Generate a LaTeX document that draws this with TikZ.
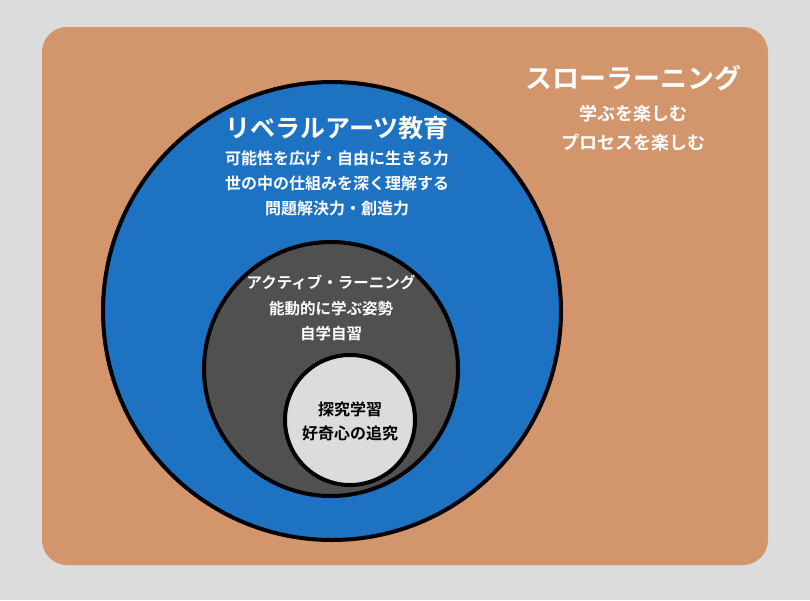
\documentclass[tikz,border=0pt]{standalone}
\usepackage{fontspec}
\newfontfamily\cjk{Noto Sans CJK JP Bold}
\definecolor{bg}{HTML}{DCDCDC}
\definecolor{tan}{HTML}{D3956B}
\definecolor{blu}{HTML}{1E72C2}
\definecolor{dg}{HTML}{505050}
\definecolor{lg}{HTML}{DCDCDC}
\tikzset{ring/.style={draw=black,line width=4pt},
 wt/.style={text=white,font=\cjk\fontsize{16}{25}\selectfont,align=center},
 big/.style={text=white,font=\cjk\fontsize{25}{30}\selectfont}}
\begin{document}
\begin{tikzpicture}[x=1pt,y=-1pt]
\useasboundingbox (0,0) rectangle (810,600);
\fill[bg] (0,0) rectangle (810,600);
\fill[tan,rounded corners=25pt] (42,27) rectangle (768,565);
\node[ring,circle,fill=blu,minimum size=458pt,inner sep=0pt] (lib) at (332,311) {};
\node[ring,circle,fill=dg,minimum size=254pt,inner sep=0pt] (act) at (331,369) {};
\node[ring,circle,fill=lg,minimum size=130pt,inner sep=0pt] (inq) at (350,420) {};
\node[big] (t1) at (337,128) {リベラルアーツ教育};
\node[wt] (t2) at (337,183) {可能性を広げ・自由に生きる力\\世の中の仕組みを深く理解する\\問題解決力・創造力};
\node[wt,font=\cjk\fontsize{15.5}{25.5}\selectfont] (t3) at (331,308) {アクティブ・ラーニング\\能動的に学ぶ姿勢\\自学自習};
\node[align=center,font=\cjk\fontsize{16}{24}\selectfont] (t4) at (350,421) {探究学習\\好奇心の追究};
\node[big,font=\cjk\fontsize{27}{30}\selectfont] (s1) at (633,78) {スローラーニング};
\node[wt,font=\cjk\fontsize{18}{29}\selectfont] (s2) at (633,128) {学ぶを楽しむ\\プロセスを楽しむ};
\end{tikzpicture}
\end{document}
